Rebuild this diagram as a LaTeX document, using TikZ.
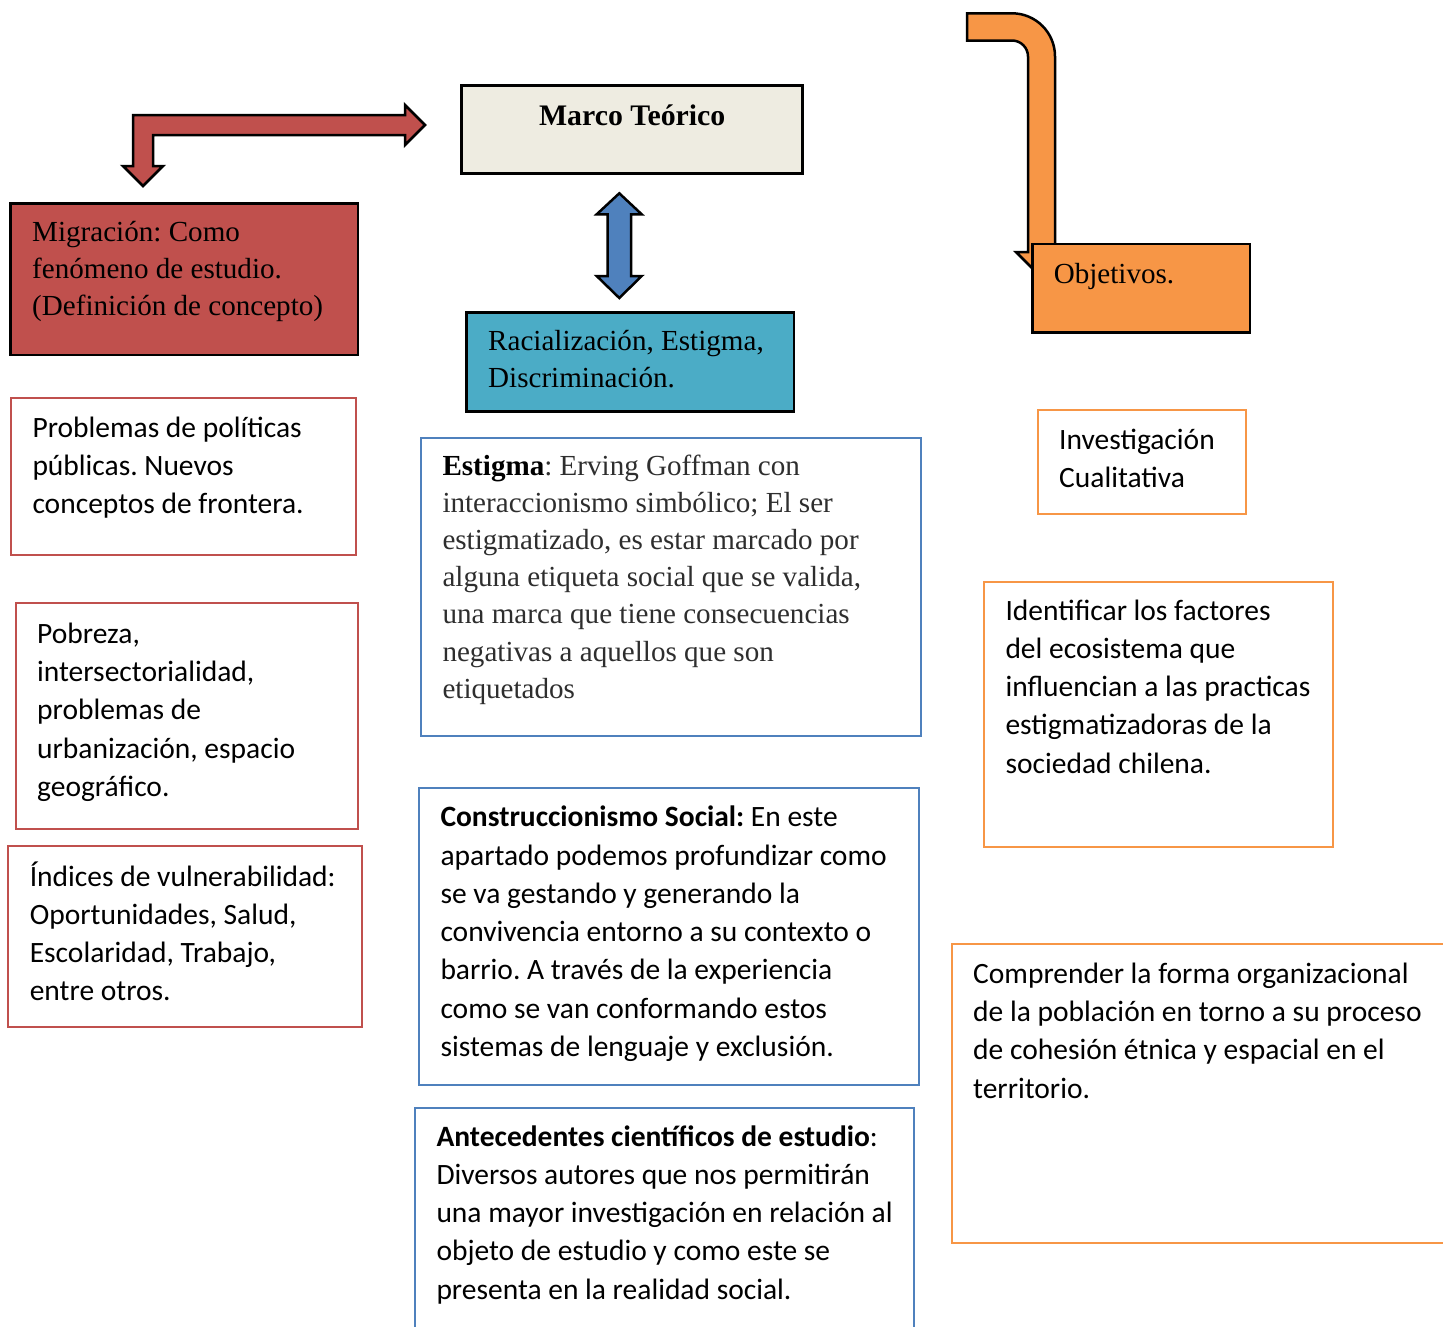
\documentclass[tikz,border=0pt]{standalone}
\usepackage{fontspec}
\setmainfont{Liberation Serif}
\newfontfamily\carl{Carlito}
\definecolor{cRed}{HTML}{C0504D}
\definecolor{cOrg}{HTML}{F79646}
\definecolor{cBlue}{HTML}{4F81BD}
\definecolor{cTeal}{HTML}{4BACC6}
\definecolor{cBeige}{HTML}{EEECE1}
\frenchspacing
% #1 text width, #2 box height, #3 first baseline offset, #4 lines
\newcommand\boxtext[4]{\parbox[t][#2pt][t]{#1pt}{\rule{0pt}{#3pt}\begin{tabular}[t]{@{}l@{}}#4\end{tabular}}}
\begin{document}
\begin{tikzpicture}[x=1pt,y=-1pt,
  serif/.style={font=\fontsize{29.1}{37.2}\selectfont},
  sans/.style={font=\carl\fontsize{29.5}{38.3}\selectfont},
  bx/.style={rectangle, anchor=north west, inner xsep=21.5pt, inner ysep=0pt, outer sep=0pt},
  filledbox/.style={bx, serif, draw=black, line width=2.5pt},
  redbox/.style={bx, sans, draw=cRed, line width=2pt},
  bluebox/.style={bx, draw=cBlue, line width=2pt},
  orgbox/.style={bx, sans, draw=cOrg, line width=2pt},
  blockarrow/.style={draw=black, line width=2.5pt, line join=miter}]
\path[use as bounding box] (0,0) rectangle (1443,1326);
\clip (0,0) rectangle (1443,1326);

% block arrows
\draw[blockarrow, fill=cRed] (133,115) -- (405,115) -- (405,105) -- (425,125) -- (405,145) -- (405,135)
  -- (153,135) -- (153,166) -- (163,166) -- (143,186) -- (123,166) -- (133,166) -- cycle;
\draw[blockarrow, fill=cBlue] (619.3,193.3) -- (641.7,214.3) -- (631,214.3) -- (631,276) -- (641.7,276)
  -- (619.3,298) -- (596.7,276) -- (607.7,276) -- (607.7,214.3) -- (596.7,214.3) -- cycle;
\draw[blockarrow, fill=cOrg] (967,13.3) -- (1012,13.3) arc[start angle=90, end angle=0, radius=43pt]
  -- (1055,252) -- (1067,252) -- (1041.5,277.5) -- (1016,252) -- (1028,252) -- (1028,56.5)
  arc[start angle=0, end angle=90, radius=16pt] -- (967,40.5) -- cycle;

% filled boxes
\node[filledbox, fill=cBeige, inner xsep=0pt] (marco) at (461.7,85.7)
  {\parbox[t][88pt][t]{341pt}{\centering\rule{0pt}{39.3pt}\fontsize{29.8}{37.2}\selectfont\textbf{Marco Teórico}}};
\node[filledbox, fill=cRed] (migr) at (10.7,203.3)
  {\boxtext{304.3}{151.7}{37.7}{Migración: Como\\fenómeno de estudio.\\(Definición de concepto)}};
\node[filledbox, fill=cTeal] (racial) at (466.7,312.3)
  {\boxtext{284.3}{99.4}{37.7}{Racialización, Estigma,\\Discriminación.}};
\node[filledbox, fill=cOrg] (obj) at (1032.3,244)
  {\boxtext{174.7}{88.7}{39.3}{Objetivos.}};

% left column
\node[redbox] (prob) at (11,398)
  {\boxtext{302}{157}{39}{Problemas de políticas\\públicas. Nuevos\\conceptos de frontera.}};
\node[redbox] (pobr) at (15.7,603.3)
  {\boxtext{299.6}{226}{40}{Pobreza,\\intersectorialidad,\\problemas de\\urbanización, espacio\\geográfico.}};
\node[redbox] (indi) at (8.3,846)
  {\boxtext{310.4}{181.3}{40}{Índices de vulnerabilidad:\\Oportunidades, Salud,\\Escolaridad, Trabajo,\\entre otros.}};

% middle column
\node[bluebox, serif, text=black!82] (estig) at (421,438)
  {\boxtext{457}{298}{37}{\textcolor{black}{\textbf{Estigma}}: Erving Goffman con\\interaccionismo simbólico; El ser\\estigmatizado, es estar marcado por\\alguna etiqueta social que se valida,\\una marca que tiene consecuencias\\negativas a aquellos que son\\etiquetados}};
\node[bluebox, sans] (const) at (419,788.3)
  {\boxtext{457}{296.7}{38.4}{\textbf{Construccionismo Social:} En este\\apartado podemos profundizar como\\se va gestando y generando la\\convivencia entorno a su contexto o\\barrio. A través de la experiencia\\como se van conformando estos\\sistemas de lenguaje y exclusión.}};
\node[bluebox, sans] (ante) at (415,1108)
  {\boxtext{456}{240}{38}{\textbf{Antecedentes científicos de estudio}:\\Diversos autores que nos permitirán\\una mayor investigación en relación al\\objeto de estudio y como este se\\presenta en la realidad social.}};

% right column
\node[orgbox] (inv) at (1037.7,410)
  {\boxtext{165.3}{104.3}{39.3}{Investigación\\Cualitativa}};
\node[orgbox] (iden) at (984,581.7)
  {\boxtext{305.7}{265}{38.3}{Identificar los factores\\del ecosistema que\\influencian a las practicas\\estigmatizadoras de la\\sociedad chilena.}};
\node[orgbox] (comp) at (951.7,944)
  {\boxtext{477}{299}{39.3}{Comprender la forma organizacional\\de la población en torno a su proceso\\de cohesión étnica y espacial en el\\territorio.}};
\end{tikzpicture}
\end{document}
